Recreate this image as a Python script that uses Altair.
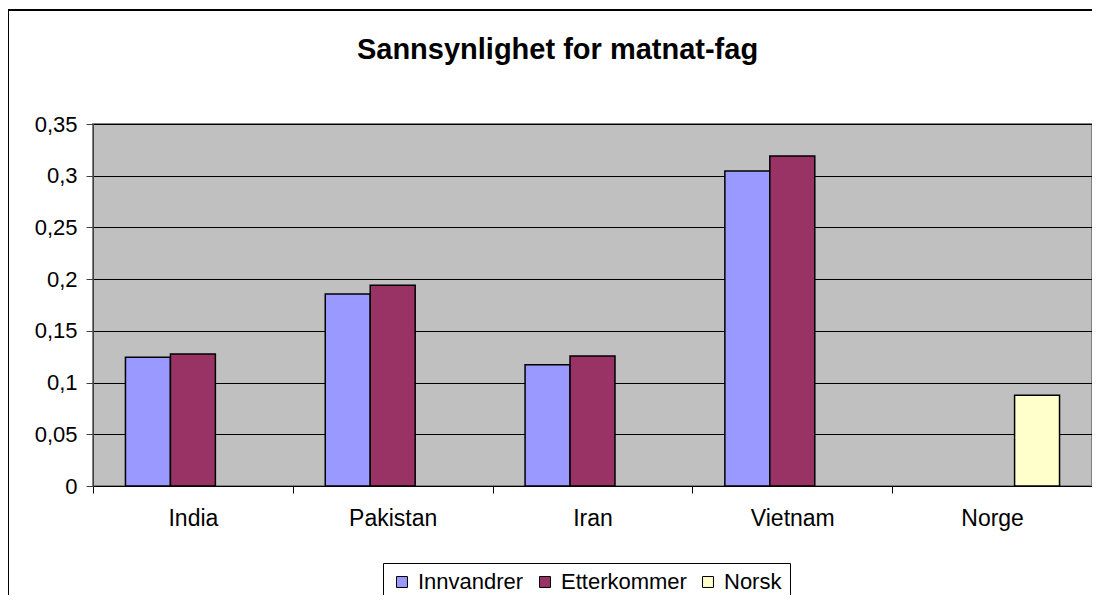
import altair as alt
import pandas as pd

categories = ["India", "Pakistan", "Iran", "Vietnam", "Norge"]
series = ["Innvandrer", "Etterkommer", "Norsk"]
innvandrer = [0.1245, 0.1856, 0.1173, 0.3046, None]
etterkommer = [0.1277, 0.194, 0.1257, 0.319, None]
norsk = [None, None, None, None, 0.0877]
colors = ["#9999FF", "#993366", "#FFFFCC"]
y_ticks = [0, 0.05, 0.1, 0.15, 0.2, 0.25, 0.3, 0.35]

rows = []
for s, vals in zip(series, [innvandrer, etterkommer, norsk]):
    for c, v in zip(categories, vals):
        if v is not None:
            rows.append({"Land": c, "Gruppe": s, "Verdi": v})
df = pd.DataFrame(rows)

FONT = "Liberation Sans"

bars = alt.Chart(df).mark_bar(stroke="black", strokeWidth=1.5).encode(
    x=alt.X("Land:N", sort=categories,
            scale=alt.Scale(paddingInner=0, paddingOuter=0),
            axis=alt.Axis(title=None, labelAngle=0, bandPosition=0, ticks=True,
                          tickSize=7, tickColor="black", domainColor="black",
                          labelPadding=14, labelFontSize=23, labelFont=FONT,
                          labelColor="black", grid=False, tickBand="extent")),
    xOffset=alt.XOffset("Gruppe:N", sort=series,
                        scale=alt.Scale(domain=series, paddingInner=0, paddingOuter=0.722)),
    y=alt.Y("Verdi:Q", scale=alt.Scale(domain=[0, 0.35], nice=False),
            axis=alt.Axis(title=None, values=y_ticks,
                          labelExpr="replace(format(datum.value, '~g'), '.', ',')",
                          tickSize=7, tickColor="#404040", domainColor="#404040",
                          labelPadding=9, labelFontSize=22, labelFont=FONT,
                          labelColor="black", grid=True, gridColor="black",
                          gridWidth=1)),
    color=alt.Color("Gruppe:N", sort=series,
                    scale=alt.Scale(domain=series, range=colors),
                    legend=alt.Legend(title=None, orient="none", direction="horizontal",
                                      legendX=290, legendY=439,
                                      strokeColor="black", fillColor="white",
                                      padding=8, symbolType="square", symbolSize=120,
                                      symbolStrokeColor="black", symbolStrokeWidth=1,
                                      symbolOpacity=1,
                                      labelFontSize=22, labelFont=FONT, labelColor="black",
                                      columnPadding=10, labelOffset=5)),
)

frame_df = pd.DataFrame([{"k": 1}])
left_line = alt.Chart(frame_df).mark_rule(color="black", strokeWidth=2).encode(
    x=alt.value(-85), y=alt.value(-114), y2=alt.value(473))
top_line = alt.Chart(frame_df).mark_rule(color="black", strokeWidth=2).encode(
    x=alt.value(-85), x2=alt.value(1000), y=alt.value(-114))

chart = alt.layer(bars, left_line, top_line).properties(
    width=999, height=362,
    title=alt.TitleParams("Sannsynlighet for matnat-fag", font=FONT, fontSize=29,
                          fontWeight="bold", color="black", anchor="middle",
                          frame="group", offset=0, dy=56, dx=-35),
    autosize=alt.AutoSizeParams(type="none"),
    padding={"left": 85, "top": 116, "right": 0, "bottom": 109},
    background="white",
).configure_view(fill="#C0C0C0", stroke="#808080", strokeWidth=2)

chart.save("out.html", embed_options={"renderer": "svg", "actions": False})
